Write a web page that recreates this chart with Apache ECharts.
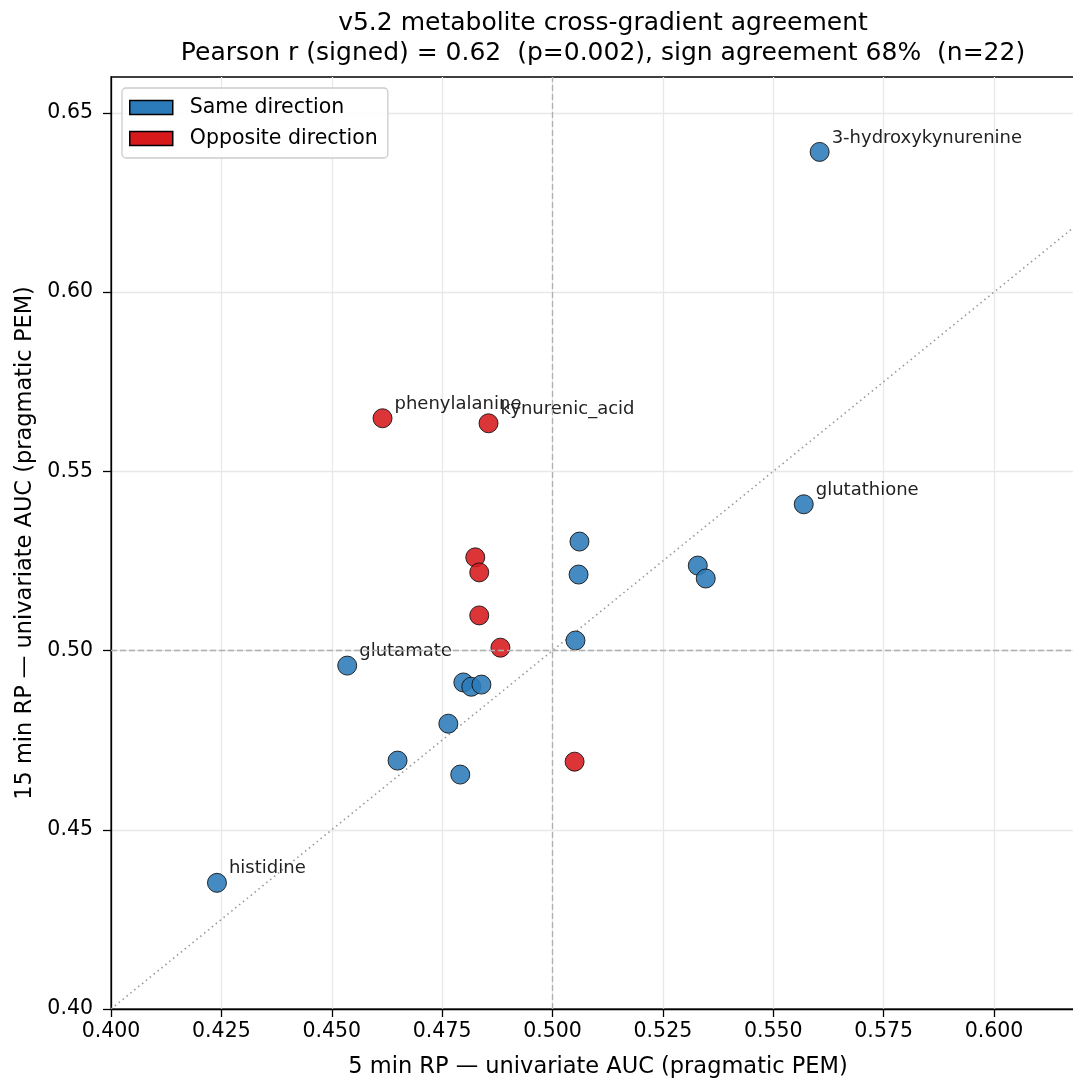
<!DOCTYPE html>
<html>
<head>
<meta charset="utf-8">
<script src="https://cdn.jsdelivr.net/npm/echarts@6/dist/echarts.min.js"></script>
<style>html,body{margin:0;padding:0;background:#fff;}#chart{width:1073px;height:1079px;}</style>
</head>
<body>
<div id="chart"></div>
<script>
// ---- data ----
const sameX = [0.5605, 0.5569, 0.5061, 0.5059, 0.5329, 0.5347, 0.5052, 0.4535, 0.4798, 0.4816, 0.4839, 0.4764, 0.4649, 0.4791, 0.4240];
const sameY = [0.6391, 0.5408, 0.5304, 0.5212, 0.5237, 0.5201, 0.5028, 0.4958, 0.4911, 0.4899, 0.4905, 0.4796, 0.4693, 0.4654, 0.4352];
const sameNames = ['3-hydroxykynurenine', 'glutathione', '', '', '', '', '', 'glutamate', '', '', '', '', '', '', 'histidine'];
const oppX = [0.4615, 0.4855, 0.4825, 0.4834, 0.4834, 0.4882, 0.5050];
const oppY = [0.5648, 0.5634, 0.5260, 0.5218, 0.5098, 0.5008, 0.4690];
const oppNames = ['phenylalanine', 'kynurenic_acid', '', '', '', '', ''];
const xTicks = [0.400, 0.425, 0.450, 0.475, 0.500, 0.525, 0.550, 0.575, 0.600];
const yTicks = [0.40, 0.45, 0.50, 0.55, 0.60, 0.65];
const diag = [[0.4, 0.4], [0.63, 0.63]];
const titleLines = ['v5.2 metabolite cross-gradient agreement', 'Pearson r (signed) = 0.62  (p=0.002), sign agreement 68%  (n=22)'];
const seriesNames = ['Same direction', 'Opposite direction'];

const FONT = 'DejaVu Sans';
function pts(xs, ys, names) {
  return xs.map((x, i) => ({
    value: [x, ys[i]],
    name: names[i],
    label: { show: names[i] !== '' }
  }));
}
const labelStyle = {
  position: 'right', distance: 2, offset: [0, -14], opacity: 1,
  formatter: p => p.name, fontFamily: FONT, fontSize: 18, color: '#222222'
};

const chart = echarts.init(document.getElementById('chart'), null, { renderer: 'canvas' });
chart.setOption({
  backgroundColor: '#fff',
  animation: false,
  title: {
    text: titleLines.join('\n'),
    left: 598, top: 3, textAlign: 'center',
    textStyle: { fontFamily: FONT, fontSize: 25, fontWeight: 'normal', color: '#000', lineHeight: 30 }
  },
  grid: { left: 111, top: 77, width: 974, height: 932, outerBoundsMode: 'none', containLabel: false,
          show: true, borderColor: '#000', borderWidth: 1.3, backgroundColor: 'transparent' },
  legend: {
    left: 122, top: 88, orient: 'vertical',
    data: seriesNames,
    icon: 'rect', itemWidth: 43, itemHeight: 14, itemGap: 8,
    padding: [8, 10, 8, 7],
    backgroundColor: 'rgba(255,255,255,0.85)', borderColor: '#cccccc', borderWidth: 1.3, borderRadius: 4,
    itemStyle: { borderColor: '#000', borderWidth: 1.5, opacity: 1 },
    textStyle: { fontFamily: FONT, fontSize: 20.5, color: '#000', padding: [0, 0, 0, 12], lineHeight: 23 }
  },
  xAxis: {
    type: 'value', min: 0.4, max: 0.6206, interval: 0.025,
    name: '5 min RP — univariate AUC (pragmatic PEM)', nameLocation: 'middle', nameGap: 47,
    nameTextStyle: { fontFamily: FONT, fontSize: 22.5, color: '#000' },
    axisLine: { show: true, onZero: false, lineStyle: { color: '#000', width: 1.3 } },
    axisTick: { show: true, inside: false, length: 8, lineStyle: { color: '#000', width: 1.3 }, customValues: xTicks },
    axisLabel: { customValues: xTicks, formatter: v => v.toFixed(3), fontFamily: FONT, fontSize: 20.5, color: '#000', margin: 12 },
    splitLine: { show: true, lineStyle: { color: '#e8e8e8', width: 1.3 } }
  },
  yAxis: {
    type: 'value', min: 0.4, max: 0.66, interval: 0.05,
    name: '15 min RP — univariate AUC (pragmatic PEM)', nameLocation: 'middle', nameGap: 66,
    nameTextStyle: { fontFamily: FONT, fontSize: 22.5, color: '#000' },
    axisLine: { show: true, onZero: false, lineStyle: { color: '#000', width: 1.3 } },
    axisTick: { show: true, inside: false, length: 8, lineStyle: { color: '#000', width: 1.3 }, customValues: yTicks },
    axisLabel: { customValues: yTicks, formatter: v => v.toFixed(2), fontFamily: FONT, fontSize: 20.5, color: '#000', margin: 18 },
    splitLine: { show: true, lineStyle: { color: '#e8e8e8', width: 1.3 } }
  },
  series: [
    {
      name: 'diag', type: 'line', data: diag, showSymbol: false, symbol: 'none', silent: true, clip: true,
      lineStyle: { color: '#999999', width: 1.6, type: [1.5, 3.5] }, z: 1,
      markLine: {
        silent: true, symbol: 'none', label: { show: false },
        lineStyle: { color: '#b0b0b0', width: 1.3, type: [6, 3] },
        data: [{ xAxis: 0.5 }, { yAxis: 0.5 }]
      }
    },
    {
      name: seriesNames[0], type: 'scatter', symbol: 'circle', symbolSize: 19, z: 3,
      itemStyle: { color: '#2b7bba', opacity: 0.88, borderColor: '#111', borderWidth: 1 },
      label: labelStyle,
      data: pts(sameX, sameY, sameNames)
    },
    {
      name: seriesNames[1], type: 'scatter', symbol: 'circle', symbolSize: 19, z: 3,
      itemStyle: { color: '#d7191c', opacity: 0.88, borderColor: '#111', borderWidth: 1 },
      label: labelStyle,
      data: pts(oppX, oppY, oppNames)
    }
  ]
});
</script>
</body>
</html>
